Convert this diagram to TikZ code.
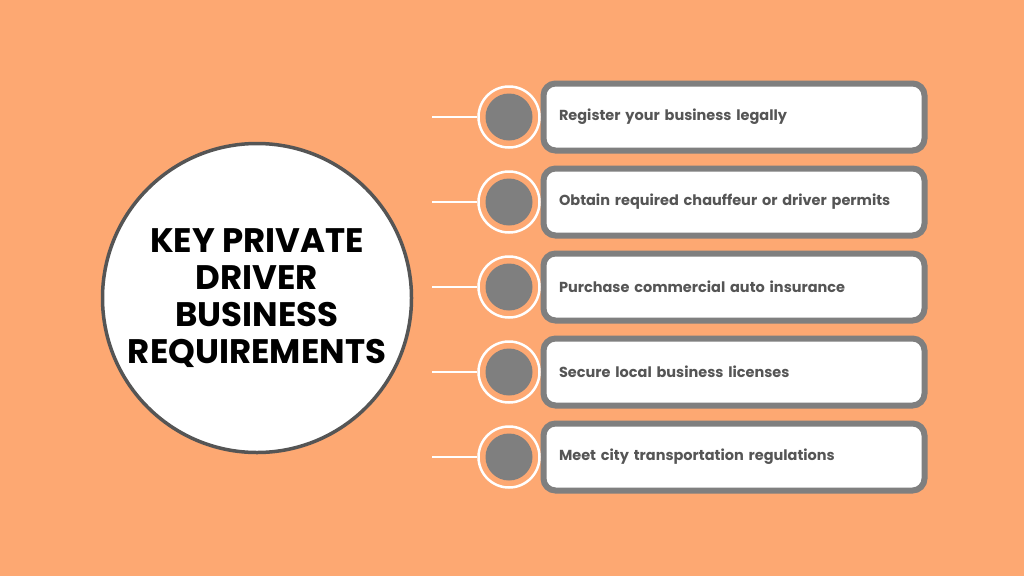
\documentclass[tikz,border=0pt]{standalone}
\usepackage{fontspec}
\setmainfont{Poppins}
\definecolor{bg}{HTML}{FDA872}
\definecolor{gr}{HTML}{7F7F7F}
\definecolor{tx}{HTML}{555555}
\begin{document}
\begin{tikzpicture}[x=1pt,y=-1pt,
 box/.style={draw=gr,line width=6pt,fill=white,rounded corners=12pt,minimum width=381pt,minimum height=67pt,text=tx,font=\fontsize{14.5}{17}\selectfont\bfseries,align=left,text width=350pt,inner sep=0pt},
 ring/.style={circle,draw=white,line width=2.5pt,fill=bg,minimum size=61pt,inner sep=0pt},
 dot/.style={circle,fill=gr,minimum size=47pt,inner sep=0pt},
 conn/.style={draw=white,line width=1.5pt}]
\fill[bg] (0,0) rectangle (1024,576);
\useasboundingbox (0,0) rectangle (1024,576);
\node[circle,draw=tx,line width=3.5pt,fill=white,minimum size=309pt,inner sep=0pt,align=center,font=\fontsize{34}{37}\selectfont\bfseries] (main) at (257,298) {KEY PRIVATE\\DRIVER\\BUSINESS\\REQUIREMENTS};
\foreach \i/\t in {1/Register your business legally,2/Obtain required chauffeur or driver permits,3/Purchase commercial auto insurance,4/Secure local business licenses,5/Meet city transportation regulations}{
 \pgfmathsetmacro\yy{32+85*\i}
 \node[box] (b\i) at (734,\yy) {\t};
 \node[ring] (r\i) at (509,\yy) {};
 \node[dot] (d\i) at (509,\yy) {};
 \coordinate (s\i) at (432,\yy);
 \draw[conn] (s\i) -- (r\i.west);
}
\end{tikzpicture}
\end{document}
